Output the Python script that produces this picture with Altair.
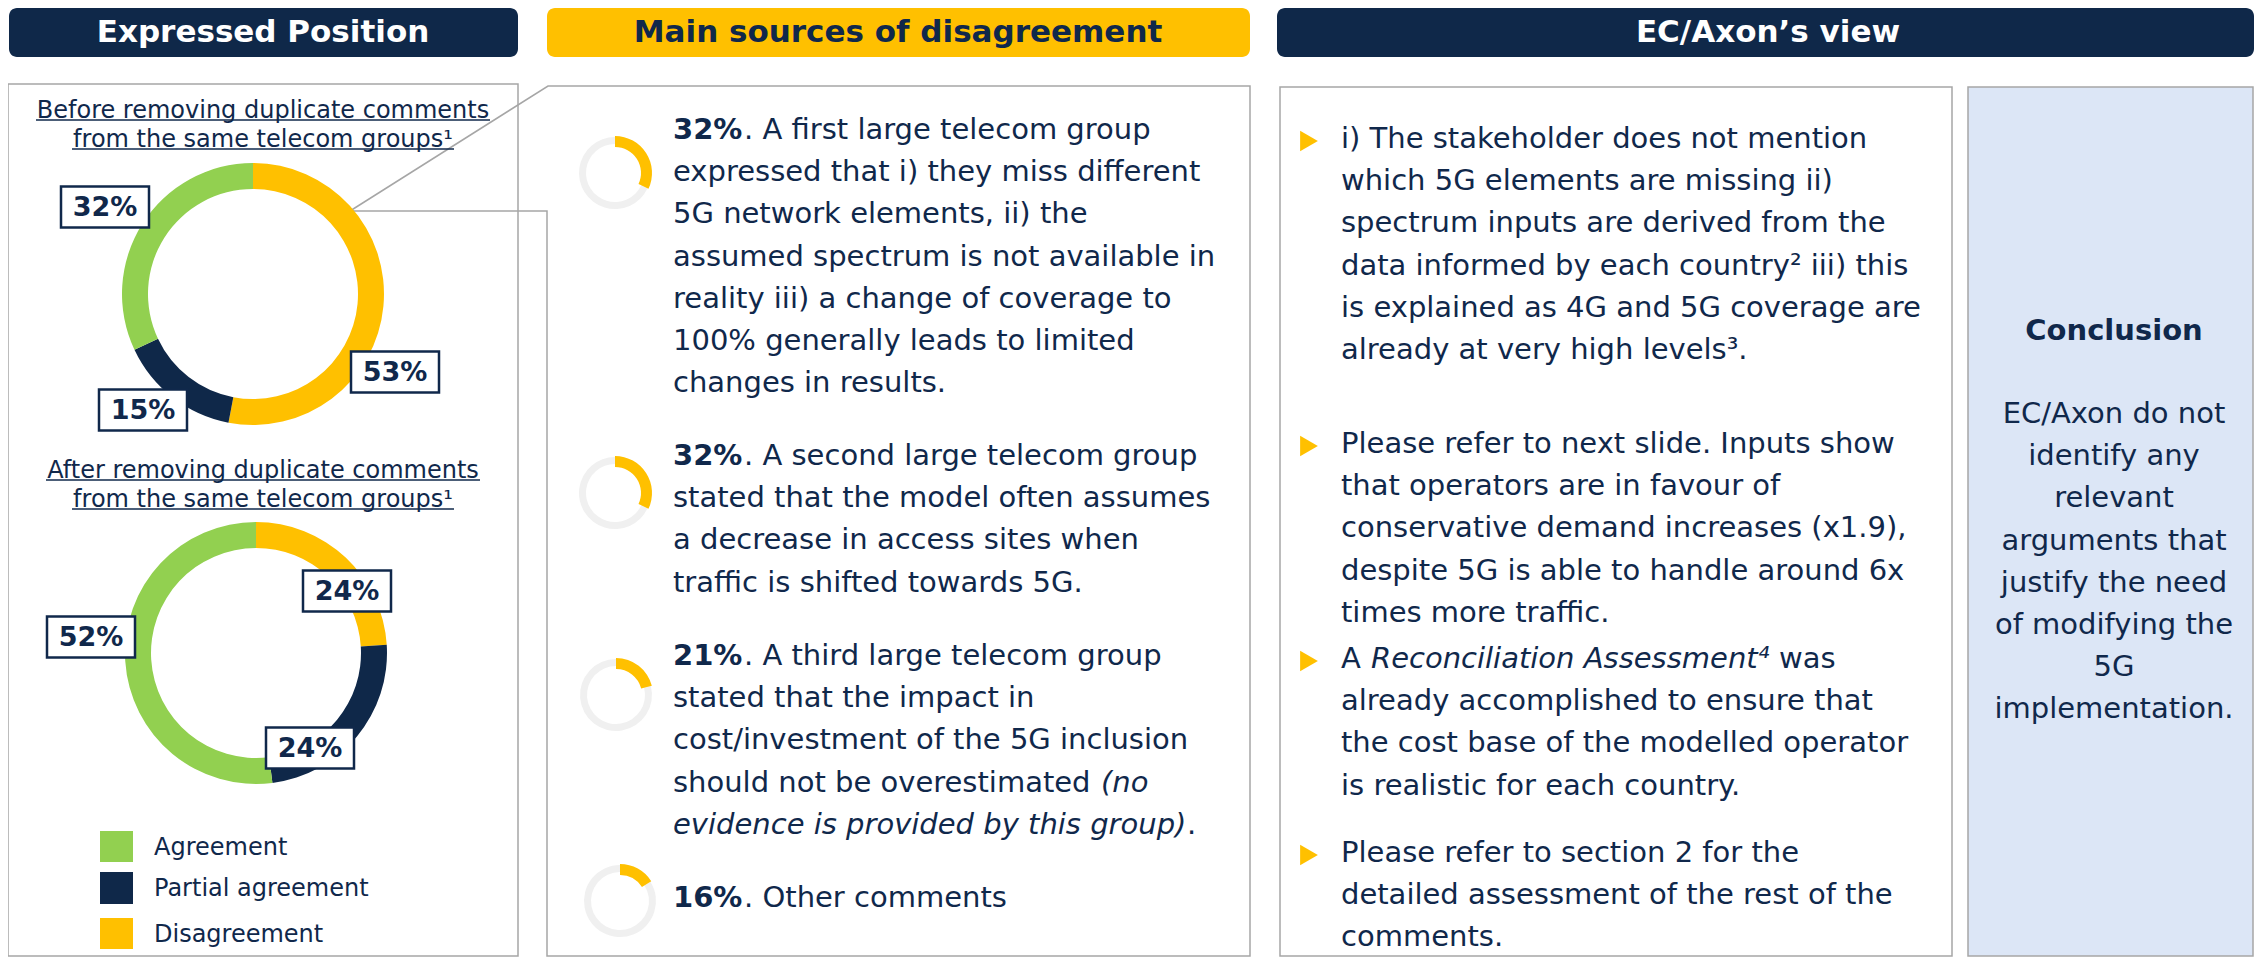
import altair as alt
import pandas as pd

# ---------------- chart content (values & texts) ----------------
position_categories = ["Disagreement", "Partial agreement", "Agreement"]
before_shares = [53, 15, 32]
after_shares = [24, 24, 52]
legend_labels = ["Agreement", "Partial agreement", "Disagreement"]

header_titles = ["Expressed Position", "Main sources of disagreement", "EC/Axon’s view"]
before_title = ["Before removing duplicate comments", "from the same telecom groups¹"]
after_title = ["After removing duplicate comments", "from the same telecom groups¹"]

source_shares = [32, 32, 21, 16]
source_lines = [
    [". A first large telecom group", "expressed that i) they miss different",
     "5G network elements, ii) the", "assumed spectrum is not available in",
     "reality iii) a change of coverage to", "100% generally leads to limited",
     "changes in results."],
    [". A second large telecom group", "stated that the model often assumes",
     "a decrease in access sites when", "traffic is shifted towards 5G."],
    [". A third large telecom group", "stated that the impact in",
     "cost/investment of the 5G inclusion", "should not be overestimated"],
    [". Other comments"],
]
source_italics = ["(no", "evidence is provided by this group)"]
source_tail = "."

view_bullets = [
    ["i) The stakeholder does not mention", "which 5G elements are missing ii)",
     "spectrum inputs are derived from the", "data informed by each country² iii) this",
     "is explained as 4G and 5G coverage are", "already at very high levels³."],
    ["Please refer to next slide. Inputs show", "that operators are in favour of",
     "conservative demand increases (x1.9),", "despite 5G is able to handle around 6x",
     "times more traffic."],
    ["A", "already accomplished to ensure that",
     "the cost base of the modelled operator", "is realistic for each country."],
    ["Please refer to section 2 for the", "detailed assessment of the rest of the",
     "comments."],
]
view_italic = "Reconciliation Assessment⁴"
view_after_italic = "was"

conclusion_title = "Conclusion"
conclusion_lines = ["EC/Axon do not", "identify any", "relevant", "arguments that",
                    "justify the need", "of modifying the", "5G", "implementation."]

# ---------------- styles ----------------
NAVY = "#10284b"
HEADER_NAVY = "#0f2849"
YELLOW = "#ffc000"
GREEN = "#92d050"
RING_GREY = "#f0f0f0"
BORDER = "#a6a6a6"
CONCL_BG = "#dce6f6"
FONT = "DejaVu Sans"

# ---------------- layout (page pixel frame) ----------------
W, H = 2246, 950
X0, Y0 = 8, 8
xs = alt.Scale(domain=[X0, X0 + W], nice=False, zero=False)
ys = alt.Scale(domain=[Y0, Y0 + H], nice=False, zero=False, reverse=True)
LINE = 42.2


def ex(f):
    return alt.X(f"{f}:Q", scale=xs, axis=None)


def ey(f):
    return alt.Y(f"{f}:Q", scale=ys, axis=None)


def rects(rows, **mk):
    df = pd.DataFrame(rows, columns=["x", "x2", "y", "y2"])
    return alt.Chart(df).mark_rect(**mk).encode(
        x=ex("x"), x2=alt.X2("x2"), y=ey("y"), y2=alt.Y2("y2"))


def texts(rows, size, **mk):
    df = pd.DataFrame(rows, columns=["x", "y", "text"])
    base = dict(font=FONT, fontSize=size, color=NAVY, align="left", baseline="alphabetic")
    base.update(mk)
    return alt.Chart(df).mark_text(**base).encode(x=ex("x"), y=ey("y"), text="text:N")


color_scale = alt.Scale(domain=["Agreement", "Partial agreement", "Disagreement"],
                        range=[GREEN, HEADER_NAVY, YELLOW])
theta_scale = alt.Scale(domain=[0, 100])


def donut(shares, cats, center, r_in, r_out, color=None):
    df = pd.DataFrame({"category": cats, "share": shares, "order": list(range(len(shares)))})
    mk = dict(innerRadius=r_in, outerRadius=r_out)
    enc = dict(theta=alt.Theta("share:Q", stack=True, scale=theta_scale),
               order=alt.Order("order:Q"),
               x=alt.value(center[0] - X0), y=alt.value(center[1] - Y0))
    if color:
        mk["color"] = color
    else:
        enc["color"] = alt.Color("category:N", scale=color_scale, legend=None)
    return alt.Chart(df).mark_arc(**mk).encode(**enc)


layers = []

# headers
header_boxes = [(9, 518, 8, 57), (547, 1250, 8, 57), (1277, 2254, 8, 57)]
header_fill = [HEADER_NAVY, YELLOW, HEADER_NAVY]
header_text_col = ["white", NAVY, "white"]
header_cx = [263, 898, 1768]
for b, f, tc, cx, t in zip(header_boxes, header_fill, header_text_col, header_cx, header_titles):
    layers.append(rects([b], color=f, cornerRadius=8))
    layers.append(texts([(cx, 42, t)], 31, fontWeight="bold", align="center", color=tc))

# panels
layers.append(rects([(8, 518, 84, 956)], fill="white", fillOpacity=0, stroke=BORDER, strokeWidth=1.5))
layers.append(rects([(1280, 1952, 87, 956)], fill="white", fillOpacity=0, stroke=BORDER, strokeWidth=1.5))
layers.append(rects([(1968, 2253, 87, 956)], color=CONCL_BG, stroke=BORDER, strokeWidth=1.5))

# callout outline of the middle panel
callout = pd.DataFrame({
    "x": [350, 548, 1250, 1250, 547, 547, 350],
    "y": [211, 86, 86, 956, 956, 211, 211],
    "o": list(range(7)),
})
layers.append(alt.Chart(callout).mark_line(color=BORDER, strokeWidth=1.5).encode(
    x=ex("x"), y=ey("y"), order="o:Q"))

# left titles with underline
title_cx = 263
for lines, ys0, spans in [(before_title, [118, 147], [(36, 490), (72, 454)]),
                          (after_title, [478, 507], [(46, 480), (72, 454)])]:
    layers.append(texts([(title_cx, y, t) for y, t in zip(ys0, lines)], 24, align="center"))
    ul = pd.DataFrame({"x": [s[0] for s in spans], "x2": [s[1] for s in spans],
                       "y": [y + 2 for y in ys0]})
    layers.append(alt.Chart(ul).mark_rule(color=NAVY, strokeWidth=1.5).encode(
        x=ex("x"), x2=alt.X2("x2"), y=ey("y")))

# big donuts
before_center, after_center = (253, 294), (256, 653)
layers.append(donut(before_shares, position_categories, before_center, 105, 131))
layers.append(donut(after_shares, position_categories, after_center, 105, 131))

# donut value labels in boxes
before_label_pos = [(395, 372), (143, 410), (105, 207)]
after_label_pos = [(347, 591), (310, 748), (91, 637)]
BW, BH = 88, 41
for shares, pos in [(before_shares, before_label_pos), (after_shares, after_label_pos)]:
    layers.append(rects([(cx - BW / 2, cx + BW / 2, cy - BH / 2, cy + BH / 2) for cx, cy in pos],
                        color="white", stroke=NAVY, strokeWidth=2.5))
    layers.append(texts([(cx, cy + 1, f"{s}%") for s, (cx, cy) in zip(shares, pos)], 27,
                        fontWeight="bold", align="center", baseline="middle"))

# legend
leg_y = [(831, 862), (872, 904), (918, 949)]
leg_df = pd.DataFrame({"category": legend_labels,
                       "x": [100] * 3, "x2": [133] * 3,
                       "y": [a for a, b in leg_y], "y2": [b for a, b in leg_y],
                       "ty": [(a + b) / 2 + 1 for a, b in leg_y], "tx": [154] * 3})
layers.append(alt.Chart(leg_df).mark_rect().encode(
    x=ex("x"), x2=alt.X2("x2"), y=ey("y"), y2=alt.Y2("y2"),
    color=alt.Color("category:N", scale=color_scale, legend=None)))
layers.append(alt.Chart(leg_df).mark_text(font=FONT, fontSize=24, color=NAVY, align="left",
                                          baseline="middle").encode(
    x=ex("tx"), y=ey("ty"), text="category:N"))

# middle column: small donuts + texts
small_centers = [(615, 173), (615, 493), (616, 695), (620, 901)]
para_top = [139, 465, 665, 907]
TX = 673
PCT_DX = 71
bold_rows, reg_rows, ital_rows = [], [], []
for s, c, top, lines in zip(source_shares, small_centers, para_top, source_lines):
    layers.append(donut([s, 100 - s], ["share", "rest"], c, 29, 36, color=RING_GREY))
    layers.append(donut([s], ["share"], c, 26, 37, color=YELLOW))
    bold_rows.append((TX, top, f"{s}%"))
    for i, t in enumerate(lines):
        reg_rows.append((TX + (PCT_DX if i == 0 else 0), top + i * LINE, t))
p3 = para_top[2]
ital_rows.append((TX + 428, p3 + 3 * LINE, source_italics[0]))
ital_rows.append((TX, p3 + 4 * LINE, source_italics[1]))
reg_rows.append((TX + 514, p3 + 4 * LINE, source_tail))

# right column: bullets + texts
bullet_top = [148, 453, 668, 862]
BX = 1341
for bi, (top, lines) in enumerate(zip(bullet_top, view_bullets)):
    for i, t in enumerate(lines):
        reg_rows.append((BX, top + i * LINE, t))
ital_rows.append((BX + 30, bullet_top[2], view_italic))
reg_rows.append((BX + 438, bullet_top[2], view_after_italic))

tri = pd.DataFrame({"x": [1309] * 4, "y": [t - 7 for t in bullet_top]})
layers.append(alt.Chart(tri).mark_point(shape="triangle-right", filled=True, size=420,
                                        color=YELLOW, opacity=1, strokeWidth=0).encode(
    x=ex("x"), y=ey("y")))

layers.append(texts(bold_rows, 29, fontWeight="bold"))
layers.append(texts(reg_rows, 29))
layers.append(texts(ital_rows, 29, fontStyle="italic"))

# conclusion
CX = 2114
layers.append(texts([(CX, 340, conclusion_title)], 29, fontWeight="bold", align="center"))
layers.append(texts([(CX, 423 + i * LINE, t) for i, t in enumerate(conclusion_lines)], 29,
                    align="center"))

chart = alt.layer(*layers).properties(
    width=W, height=H, padding=0,
    autosize=alt.AutoSizeParams(type="none"),
).configure_view(stroke="transparent")

chart.save("out.html", embed_options={"renderer": "svg", "actions": False})
